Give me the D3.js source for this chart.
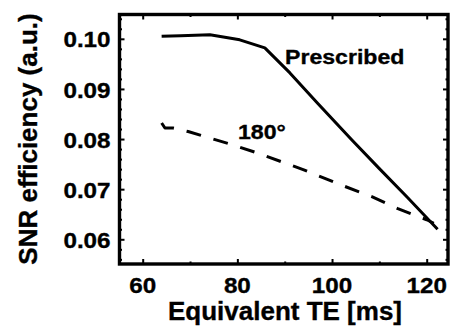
<!DOCTYPE html>
<html>
<head>
<meta charset="utf-8">
<script src="https://cdn.jsdelivr.net/npm/d3@7"></script>
<style>
  html, body { margin: 0; padding: 0; background: #fff; }
  svg { display: block; }
  text { font-family: "Liberation Sans", Arial, sans-serif; font-weight: bold; fill: #000; stroke: #000; stroke-width: 0.35; }
</style>
</head>
<body>
<div id="chart"></div>
<script>
// values
const prescribedTE = [64.0, 68.0, 74.2, 80.5, 85.8, 91.1, 97.0, 104.1, 110.0, 116.0, 122.3];
const prescribedSNR = [0.1005, 0.1006, 0.1008, 0.0998, 0.0982, 0.0932, 0.0871, 0.0799, 0.0741, 0.0683, 0.0620];

const te180 = [64.0, 64.7, 66.4, 69.6, 78.8, 84.3, 93.9, 102.3, 108.4, 113.9, 120.0, 121.5];
const snr180 = [0.0832, 0.0822, 0.0822, 0.0815, 0.0789, 0.0772, 0.0739, 0.0707, 0.0685, 0.0661, 0.0639, 0.0632];

const xTicks = [60, 80, 100, 120];
const xMinor = [70, 90, 110];
const yTicks = [0.06, 0.07, 0.08, 0.09, 0.10];

const width = 451, height = 326;
const margin = { top: 14.5, right: 3, bottom: 62, left: 119.5 };
const w = width - margin.left - margin.right;
const h = height - margin.top - margin.bottom;

const svg = d3.select('#chart').append('svg')
  .attr('width', width)
  .attr('height', height);

const x = d3.scaleLinear().domain([55.1, 124.5]).range([0, w]);
const y = d3.scaleLinear().domain([0.05507, 0.10485]).range([h, 0]);

const g = svg.append('g').attr('transform', `translate(${margin.left},${margin.top})`);

// minor y ticks every 0.002
const yMinor = d3.range(0.056, 0.105, 0.002).filter(v => !yTicks.some(t => Math.abs(t - v) < 1e-6));

function tickAxis(axisFn, scale, values, size, transform) {
  const a = g.append('g')
    .attr('transform', transform || null)
    .call(axisFn(scale).tickValues(values).tickSize(size).tickFormat(''));
  a.select('.domain').remove();
  a.selectAll('line').attr('stroke', '#000').attr('stroke-width', 2);
  return a;
}

// inward ticks on all four sides
tickAxis(d3.axisLeft, y, yTicks, -5);
tickAxis(d3.axisLeft, y, yMinor, -2.5);
tickAxis(d3.axisRight, y, yTicks, -5, `translate(${w},0)`);
tickAxis(d3.axisRight, y, yMinor, -2.5, `translate(${w},0)`);
tickAxis(d3.axisBottom, x, xTicks, -5, `translate(0,${h})`);
tickAxis(d3.axisBottom, x, xMinor, -2.5, `translate(0,${h})`);
tickAxis(d3.axisTop, x, xTicks, -5);
tickAxis(d3.axisTop, x, xMinor, -2.5);

// frame
g.append('rect')
  .attr('x', 0).attr('y', 0)
  .attr('width', w).attr('height', h)
  .attr('fill', 'none')
  .attr('stroke', '#000')
  .attr('stroke-width', 3.4);

// tick labels
g.selectAll('.ylab').data(yTicks).enter().append('text')
  .attr('class', 'ylab')
  .attr('text-anchor', 'end')
  .attr('dominant-baseline', 'central')
  .attr('font-size', 22)
  .attr('transform', d => `translate(-9,${y(d) + 1}) scale(1.1,1)`)
  .text(d => d3.format('.2f')(d));

g.selectAll('.xlab').data(xTicks).enter().append('text')
  .attr('class', 'xlab')
  .attr('text-anchor', 'middle')
  .attr('font-size', 22)
  .attr('transform', d => `translate(${x(d)},${h + 28.5}) scale(1.1,1)`)
  .text(d => d);

// axis titles
svg.append('text')
  .attr('text-anchor', 'middle')
  .attr('font-size', 25)
  .attr('transform', `translate(285,320) scale(1.04,1)`)
  .text('Equivalent TE [ms]');

svg.append('text')
  .attr('text-anchor', 'middle')
  .attr('font-size', 25)
  .attr('transform', `translate(37,139) rotate(-90) scale(1.04,1)`)
  .text('SNR efficiency (a.u.)');

// lines
const line = d3.line().x(d => x(d[0])).y(d => y(d[1]));

g.append('path')
  .datum(d3.zip(prescribedTE, prescribedSNR))
  .attr('d', line)
  .attr('fill', 'none')
  .attr('stroke', '#000')
  .attr('stroke-width', 3)
  .attr('stroke-linejoin', 'round');

g.append('path')
  .datum(d3.zip(te180, snr180))
  .attr('d', line)
  .attr('fill', 'none')
  .attr('stroke', '#000')
  .attr('stroke-width', 3)
  .attr('stroke-dasharray', '15,13')
  .attr('stroke-linejoin', 'round');

// annotations
svg.append('text')
  .attr('font-size', 21)
  .attr('transform', 'translate(285,64) scale(1.1,1)')
  .text('Prescribed');

svg.append('text')
  .attr('font-size', 21)
  .attr('transform', 'translate(238,139) scale(1.1,1)')
  .text('180°');
</script>
</body>
</html>
